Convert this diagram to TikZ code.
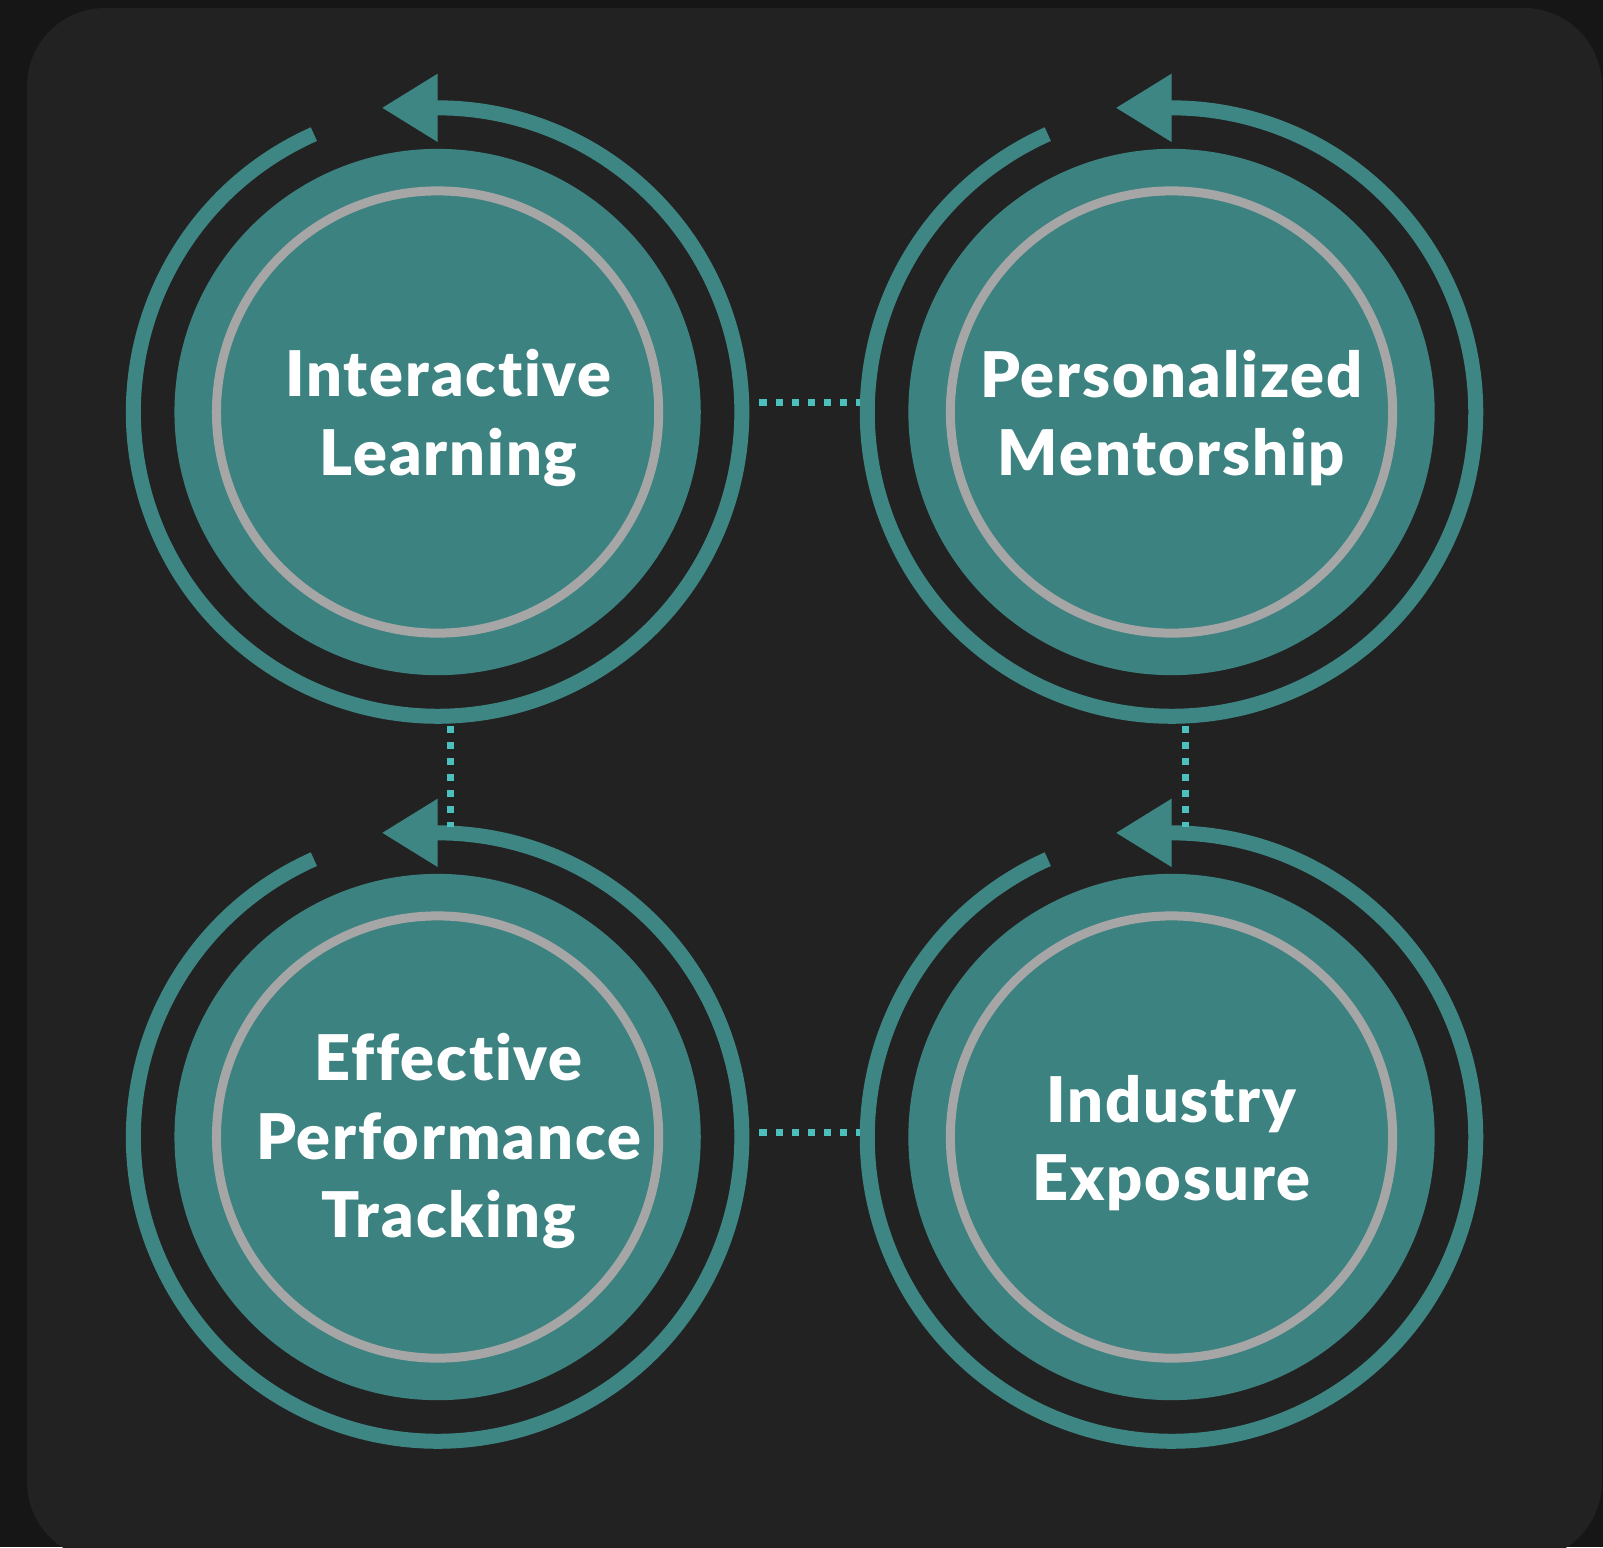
\documentclass[tikz,border=0pt]{standalone}
\usepackage{fontspec}
\setmainfont{Lato}[BoldFont={Lato Black}, Ligatures=NoCommon, LetterSpace=3]
\usetikzlibrary{arrows.meta, calc}
\definecolor{backdrop}{HTML}{161616}
\definecolor{panel}{HTML}{222222}
\definecolor{tealfill}{HTML}{3C8280}
\definecolor{tealarc}{HTML}{3E8684}
\definecolor{ringgray}{HTML}{A6A6A6}
\definecolor{dotteal}{HTML}{4CC0BE}
\tikzstyle{hub} = [circle, fill=tealfill, minimum size=5.26cm, inner sep=0pt]
\tikzstyle{caption} = [text=white, align=center, inner sep=0pt, font=\fontsize{17.9}{22.4}\selectfont\bfseries]
\tikzstyle{innerring} = [draw=ringgray, line width=0.09cm]
\tikzstyle{roundarrow} = [draw=tealarc, line width=0.15cm, -{Triangle[length=0.56cm, width=0.64cm]}]
\tikzstyle{linkdots} = [draw=dotteal, line width=0.07cm, dash pattern=on 0.07cm off 0.09cm]

\begin{document}
\begin{tikzpicture}[x=0.01cm, y=0.01cm]

        \useasboundingbox (0,0) rectangle (1603,-1547);
        \fill[backdrop] (0,0) rectangle (1603,-1547);
        \fill[panel, rounded corners=0.78cm] (27,-8) rectangle (1602,-1560);

        \node (IL) [hub] at (437.6,-412) {};
        \node (PM) [hub] at (1171.5,-412) {};
        \node (EPT) [hub] at (437.6,-1137) {};
        \node (IE) [hub] at (1171.5,-1137) {};

        \node [caption] at ([xshift=0.11cm, yshift=-0.06cm]IL.center) {Interactive\\ Learning};
        \node [caption] at ([yshift=-0.06cm]PM.center) {Personalized\\ Mentorship};
        \node [caption] at ([xshift=0.11cm, yshift=-0.04cm]EPT.center) {Effective\\ Performance\\ Tracking};
        \node [caption] at ([yshift=-0.06cm]IE.center) {Industry\\ Exposure};

        % grey rings inside the discs
        \draw [innerring] (IL.center) circle (2.21cm);
        \draw [innerring] (PM.center) circle (2.21cm);
        \draw [innerring] (EPT.center) circle (2.21cm);
        \draw [innerring] (IE.center) circle (2.21cm);

        % open arcs with the arrow at the top
        \draw [roundarrow] ($(IL.center)+(-246:3.04cm)$) arc[start angle=-246, end angle=90, radius=3.04cm] -- ++(-0.56cm,0);
        \draw [roundarrow] ($(PM.center)+(-246:3.04cm)$) arc[start angle=-246, end angle=90, radius=3.04cm] -- ++(-0.56cm,0);
        \draw [roundarrow] ($(EPT.center)+(-246:3.04cm)$) arc[start angle=-246, end angle=90, radius=3.04cm] -- ++(-0.56cm,0);
        \draw [roundarrow] ($(IE.center)+(-246:3.04cm)$) arc[start angle=-246, end angle=90, radius=3.04cm] -- ++(-0.56cm,0);

        \draw [linkdots] ([yshift=0.1cm]IL.east) -- ([yshift=0.1cm]PM.west) [shorten <=0.58cm, shorten >=0.48cm];
        \draw [linkdots] ([yshift=0.05cm]EPT.east) -- ([yshift=0.05cm]IE.west) [shorten <=0.58cm, shorten >=0.48cm];
        \draw [linkdots] ([xshift=0.13cm]IL.south) -- ([xshift=0.13cm]EPT.north) [shorten <=0.50cm, shorten >=0.46cm];
        \draw [linkdots] ([xshift=0.14cm]PM.south) -- ([xshift=0.14cm]IE.north) [shorten <=0.50cm, shorten >=0.46cm];

\end{tikzpicture}
\end{document}
